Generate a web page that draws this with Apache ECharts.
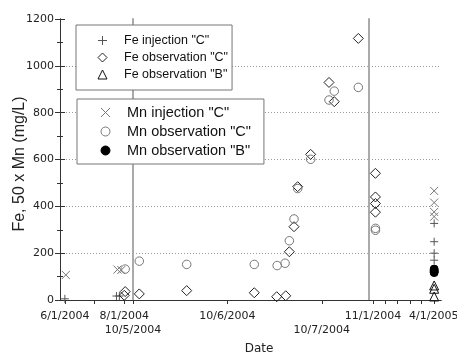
<!DOCTYPE html>
<html><head><meta charset="utf-8">
<script src="https://cdn.jsdelivr.net/npm/echarts@6/dist/echarts.min.js"></script>
<style>html,body{margin:0;padding:0;background:#fff}#c{width:457px;height:355px}</style>
</head><body><div id="c"></div>
<script>
// ---- axis segments (broken date axis) ----
const segmentRanges = [["2004-05-27","2004-08-10"],["2004-10-05","2004-10-07 12:00"],["2004-10-22","2005-04-19"]];
const segmentTicks = [["2004-06-01","2004-07-01","2004-08-01"],["2004-10-05","2004-10-06","2004-10-07"],["2004-11-01","2004-12-01","2005-01-01","2005-02-01","2005-03-01","2005-04-01"]];
const segmentLabels = [["2004-06-01","2004-08-01"],["2004-10-05","2004-10-06","2004-10-07"],["2004-11-01","2005-04-01"]];
const lowerRowLabels = ["2004-10-05","2004-10-07"];
const yMin = 0, yMax = 1200, yStep = 200;

// ---- data: [date, value] ----
const feInjectionC = [["2004-06-01",5],["2004-07-24",17],["2004-07-27",17],["2005-04-02",327],["2005-04-02",249],["2005-04-02",200],["2005-04-02",170]];
const feObservationC = [["2004-08-01",20],["2004-08-02",36],["2004-10-05 01:36",26],["2004-10-05 13:39",40],["2004-10-06 06:50",31],["2004-10-06 12:32",14],["2004-10-06 14:50",18],["2004-10-06 15:45",206],["2004-10-06 16:56",313],["2004-10-06 17:52",484],["2004-10-06 21:10",622],["2004-10-07 01:50",929],["2004-10-07 03:10",847],["2004-10-07 09:17",1117],["2004-11-07",541],["2004-11-07",440],["2004-11-07",412],["2004-11-07",375]];
const feObservationB = [["2005-04-02",62],["2005-04-02",48],["2005-04-02",15]];
const mnInjectionC = [["2004-06-02",107],["2004-07-25",130],["2004-07-29",128],["2005-04-02",466],["2005-04-02",416],["2005-04-02",376],["2005-04-02",356]];
const mnObservationC = [["2004-08-02",132],["2004-10-05 01:36",166],["2004-10-05 13:39",152],["2004-10-06 06:50",152],["2004-10-06 12:39",147],["2004-10-06 14:40",157],["2004-10-06 15:45",253],["2004-10-06 16:56",346],["2004-10-06 17:52",476],["2004-10-06 21:10",601],["2004-10-07 01:50",854],["2004-10-07 03:10",892],["2004-10-07 09:17",908],["2004-11-07",306],["2004-11-07",298]];
const mnObservationB = [["2005-04-02",132],["2005-04-02",126],["2005-04-02",121],["2005-04-02",117]];

function t(s){
  const parts = s.split(' ');
  const [Y,M,D] = parts[0].split('-').map(Number);
  let h = 0, m = 0;
  if (parts[1]) { [h, m] = parts[1].split(':').map(Number); }
  return Date.UTC(Y, M-1, D, h, m);
}
function fmt(v){
  const d = new Date(v);
  return (d.getUTCMonth()+1) + '/' + d.getUTCDate() + '/' + d.getUTCFullYear();
}
const lowerSet = lowerRowLabels.map(t);

const plusPath = 'path://M5,0L5,10M0,5L10,5';
const crossPath = 'path://M0,0L10,10M10,0L0,10';
const hollow = 'rgba(255,255,255,0)';
const seriesDefs = [
  {name:'Fe injection "C"', data:feInjectionC, symbol:plusPath, size:8, fill:hollow, stroke:'#555'},
  {name:'Fe observation "C"', data:feObservationC, symbol:'diamond', size:10, fill:hollow, stroke:'#222'},
  {name:'Fe observation "B"', data:feObservationB, symbol:'triangle', size:9, fill:hollow, stroke:'#111'},
  {name:'Mn injection "C"', data:mnInjectionC, symbol:crossPath, size:8, fill:hollow, stroke:'#777'},
  {name:'Mn observation "C"', data:mnObservationC, symbol:'circle', size:8.5, fill:hollow, stroke:'#777'},
  {name:'Mn observation "B"', data:mnObservationB, symbol:'circle', size:8, fill:'#000', stroke:'#000'}
];

const FONT = 'DejaVu Sans';
const frame = {left:60, top:19, width:381, height:281};
const grids = [
  Object.assign({outerBoundsMode:'none', containLabel:false}, frame),
  {left:60, top:19, width:73, height:281, outerBoundsMode:'none', containLabel:false},
  {left:133, top:19, width:236, height:281, outerBoundsMode:'none', containLabel:false},
  {left:369, top:19, width:72, height:281, outerBoundsMode:'none', containLabel:false}
];

const xAxes = [{
  gridIndex:0, type:'value', position:'top', min:0, max:1,
  axisLine:{show:true, lineStyle:{color:'#333', width:1}},
  axisTick:{show:false}, axisLabel:{show:false}, splitLine:{show:false}
}];
segmentRanges.forEach((r, i) => {
  const ax = {
    gridIndex:i+1, type:'value', position:'bottom', min:t(r[0]), max:t(r[1]),
    axisLine:{show:true, onZero:false, lineStyle:{color:'#333', width:1}},
    axisTick:{show:true, inside:false, length:4, customValues:segmentTicks[i].map(t), lineStyle:{color:'#333'}},
    axisLabel:{show:true, customValues:segmentLabels[i].map(t), fontFamily:FONT, fontSize:11, color:'#222', margin:9, lineHeight:14,
      formatter:(v) => (lowerSet.indexOf(v) >= 0 ? '\n' : '') + fmt(v)},
    splitLine:{show:false}
  };
  if (i === 1) {
    ax.name = 'Date'; ax.nameLocation = 'middle'; ax.nameGap = 43; ax.nameMoveOverlap = false;
    ax.nameTextStyle = {fontFamily:FONT, fontSize:12, color:'#222', padding:[0,0,0,16]};
  }
  xAxes.push(ax);
});

const dotted = {show:true, showMinLine:false, showMaxLine:false, lineStyle:{color:'#999', type:[1,2], width:1}};
const yAxes = [
  {gridIndex:0, type:'value', position:'right', min:yMin, max:yMax, interval:yStep,
   axisLine:{show:true, lineStyle:{color:'#333'}}, axisTick:{show:true, inside:true, length:5, lineStyle:{color:'#333'}},
   minorTick:{show:true, splitNumber:2, length:3, lineStyle:{color:'#333'}},
   axisLabel:{show:false}, splitLine:{show:false}},
  {gridIndex:1, type:'value', position:'left', min:yMin, max:yMax, interval:yStep,
   name:'Fe, 50 x Mn (mg/L)', nameLocation:'middle', nameGap:32, nameMoveOverlap:false,
   nameTextStyle:{fontFamily:'Liberation Sans', fontSize:16, color:'#222', padding:[0,9,0,0]},
   axisLine:{show:true, lineStyle:{color:'#333'}}, axisTick:{show:true, inside:true, length:5, lineStyle:{color:'#333'}},
   minorTick:{show:true, splitNumber:2, length:3, lineStyle:{color:'#333'}},
   axisLabel:{show:true, fontFamily:FONT, fontSize:11, color:'#222', margin:6, formatter:(v) => String(v)},
   splitLine:dotted},
  {gridIndex:2, type:'value', position:'left', min:yMin, max:yMax, interval:yStep,
   axisLine:{show:true, lineStyle:{color:'#aaa', width:2}}, axisTick:{show:false}, axisLabel:{show:false}, splitLine:dotted},
  {gridIndex:3, type:'value', position:'left', min:yMin, max:yMax, interval:yStep,
   axisLine:{show:true, lineStyle:{color:'#aaa', width:2}}, axisTick:{show:false}, axisLabel:{show:false}, splitLine:dotted}
];

const series = [];
seriesDefs.forEach((d) => {
  segmentRanges.forEach((r, i) => {
    const lo = t(r[0]), hi = t(r[1]);
    const pts = d.data.map(p => [t(p[0]), p[1]]).filter(p => p[0] >= lo && p[0] <= hi);
    if (!pts.length) return;
    series.push({
      type:'scatter', name:d.name, xAxisIndex:i+1, yAxisIndex:i+1, data:pts,
      symbol:d.symbol, symbolSize:d.size, z:3,
      itemStyle:{color:d.fill, borderColor:d.stroke, borderWidth:1, opacity:1},
      emphasis:{disabled:true}
    });
  });
});

const legendCommon = {
  orient:'vertical', itemWidth:9, itemHeight:9, backgroundColor:'#fff', borderColor:'#777', borderWidth:1,
  itemStyle:{borderWidth:1}, selectedMode:false, z:10
};
const legends = [
  Object.assign({}, legendCommon, {data:seriesDefs.slice(0,3).map(d=>d.name), left:76, top:25, itemGap:4, padding:[9,4,9,21.5],
    textStyle:{fontFamily:'Liberation Sans', fontSize:12.5, color:'#111', padding:[0,0,0,12]}}),
  Object.assign({}, legendCommon, {data:seriesDefs.slice(3).map(d=>d.name), left:77, top:99, itemGap:4, padding:[6,13,6,23.5],
    textStyle:{fontFamily:'Liberation Sans', fontSize:14.5, color:'#111', padding:[0,0,0,12]}})
];

const chart = echarts.init(document.getElementById('c'), null, {renderer:'canvas'});
chart.setOption({
  animation:false, backgroundColor:'#fff',
  grid:grids, xAxis:xAxes, yAxis:yAxes, legend:legends, series:series
});
</script></body></html>
